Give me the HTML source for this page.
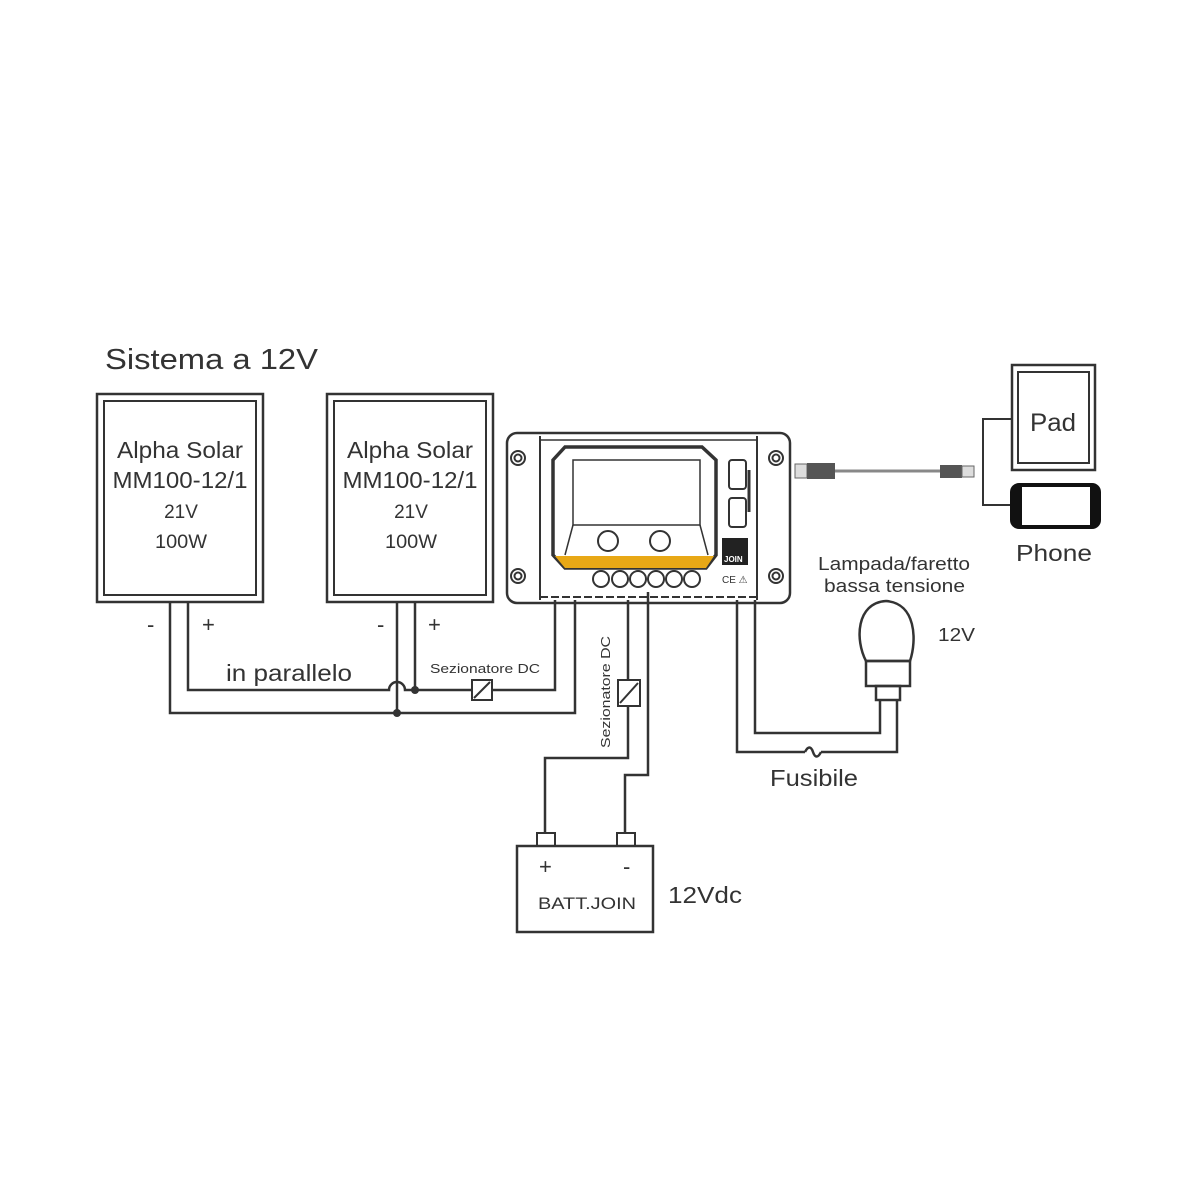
<!DOCTYPE html>
<html><head><meta charset="utf-8"><style>
html,body{margin:0;padding:0;background:#fff;}
svg{display:block;}
text{font-family:"Liberation Sans",sans-serif;fill:#333;}
</style></head><body>
<svg width="1200" height="1200" viewBox="0 0 1200 1200" xmlns="http://www.w3.org/2000/svg">
<rect width="1200" height="1200" fill="#fff"/>
<text x="105" y="369" font-size="29" textLength="213" lengthAdjust="spacingAndGlyphs">Sistema a 12V</text>

<g fill="none" stroke="#333" stroke-width="2.5">
<rect x="97" y="394" width="166" height="208"/>
<rect x="104" y="401" width="152" height="194" stroke-width="2"/>
<rect x="327" y="394" width="166" height="208"/>
<rect x="334" y="401" width="152" height="194" stroke-width="2"/>
<polyline points="170,602 170,713 575,713 575,600"/>
<path d="M188,602 V690 H389 A8,8 0 0 1 405,690 H472 M492,690 H555 V600"/>
<line x1="397" y1="602" x2="397" y2="713"/>
<line x1="415" y1="602" x2="415" y2="690"/>
<rect x="472" y="680" width="20" height="20" stroke-width="2"/>
<line x1="474" y1="698" x2="490" y2="682" stroke-width="2"/>
<polyline points="628,600 628,680"/>
<rect x="618" y="680" width="22" height="26" stroke-width="2"/>
<line x1="620" y1="703" x2="638" y2="683" stroke-width="2"/>
<polyline points="628,706 628,758 545,758 545,834"/>
<polyline points="648,592 648,775 625,775 625,834"/>
<rect x="537" y="833" width="18" height="13" stroke-width="2"/>
<rect x="617" y="833" width="18" height="13" stroke-width="2"/>
<rect x="517" y="846" width="136" height="86"/>
<polyline points="737,600 737,752 805,752"/>
<path d="M805,752 c3,-6 6,-6 8,0 s5,6 8,0" />
<polyline points="821,752 897,752 897,700"/>
<polyline points="755,600 755,733 880,733 880,700"/>
<path d="M866,661 C855,640 856,603 886,601 C916,603 917,640 910,661 Z"/>
<rect x="866" y="661" width="44" height="25"/>
<rect x="876" y="686" width="24" height="14"/>
<rect x="1012" y="365" width="83" height="105"/>
<rect x="1018" y="372" width="71" height="91" stroke-width="2"/>
<polyline points="1012,419 983,419 983,505 1012,505" stroke-width="2"/>
<rect x="507" y="433" width="283" height="170" rx="10"/>
<line x1="540" y1="436" x2="540" y2="600" stroke-width="2"/>
<line x1="757" y1="436" x2="757" y2="600" stroke-width="2"/>
<line x1="540" y1="440" x2="757" y2="440" stroke-width="1.5"/>
<line x1="540" y1="597" x2="757" y2="597" stroke-width="2" stroke-dasharray="8,3"/>
<path d="M565,447 H702 L716,460 V555 L706,568 H565 L553,555 V460 Z" stroke-width="3.5"/>
<path d="M573,460 H700 V525 H573 Z" stroke-width="1.5"/>
<line x1="573" y1="525" x2="565" y2="555" stroke-width="1.5"/>
<line x1="700" y1="525" x2="708" y2="555" stroke-width="1.5"/>
<circle cx="608" cy="541" r="10" stroke-width="2"/>
<circle cx="660" cy="541" r="10" stroke-width="2"/>
<g stroke-width="2">
<circle cx="601" cy="579" r="8"/><circle cx="620" cy="579" r="8"/><circle cx="638" cy="579" r="8"/>
<circle cx="656" cy="579" r="8"/><circle cx="674" cy="579" r="8"/><circle cx="692" cy="579" r="8"/>
<circle cx="518" cy="458" r="7"/><circle cx="518" cy="458" r="3.5"/>
<circle cx="518" cy="576" r="7"/><circle cx="518" cy="576" r="3.5"/>
<circle cx="776" cy="458" r="7"/><circle cx="776" cy="458" r="3.5"/>
<circle cx="776" cy="576" r="7"/><circle cx="776" cy="576" r="3.5"/>
<rect x="729" y="460" width="17" height="29" rx="3"/>
<rect x="729" y="498" width="17" height="29" rx="3"/>
</g>
<line x1="749" y1="470" x2="749" y2="512" stroke-width="3"/>
<line x1="835" y1="471" x2="940" y2="471" stroke="#888" stroke-width="3"/>
</g>
<path d="M555,556 H714 L706,568 H565 Z" fill="#e8a816"/>
<rect x="722" y="538" width="26" height="27" fill="#222"/>
<text x="724" y="562" font-size="8" font-weight="bold" style="fill:#fff">JOIN</text>
<text x="722" y="583" font-size="10">CE ⚠</text>
<circle cx="415" cy="690" r="4" fill="#333"/>
<circle cx="397" cy="713" r="4" fill="#333"/>
<rect x="795" y="464" width="12" height="14" fill="#ddd" stroke="#666"/>
<rect x="807" y="463" width="28" height="16" fill="#555"/>
<rect x="940" y="465" width="22" height="13" fill="#555"/>
<rect x="962" y="466" width="12" height="11" fill="#ddd" stroke="#666"/>
<rect x="1012" y="485" width="87" height="42" rx="7" fill="none" stroke="#111" stroke-width="4"/>
<rect x="1012" y="487" width="10" height="38" fill="#111"/>
<rect x="1090" y="487" width="9" height="38" fill="#111"/>

<g text-anchor="middle">
<text x="180" y="458" font-size="23" textLength="126" lengthAdjust="spacingAndGlyphs">Alpha Solar</text>
<text x="180" y="488" font-size="23" textLength="135" lengthAdjust="spacingAndGlyphs">MM100-12/1</text>
<text x="181" y="518" font-size="19">21V</text>
<text x="181" y="548" font-size="19" textLength="52" lengthAdjust="spacingAndGlyphs">100W</text>
<text x="410" y="458" font-size="23" textLength="126" lengthAdjust="spacingAndGlyphs">Alpha Solar</text>
<text x="410" y="488" font-size="23" textLength="135" lengthAdjust="spacingAndGlyphs">MM100-12/1</text>
<text x="411" y="518" font-size="19">21V</text>
<text x="411" y="548" font-size="19" textLength="52" lengthAdjust="spacingAndGlyphs">100W</text>
</g>
<text x="147" y="632" font-size="22">-</text>
<text x="202" y="632" font-size="22">+</text>
<text x="377" y="632" font-size="22">-</text>
<text x="428" y="632" font-size="22">+</text>
<text x="226" y="681" font-size="23" textLength="126" lengthAdjust="spacingAndGlyphs">in parallelo</text>
<text x="430" y="673" font-size="13" textLength="110" lengthAdjust="spacingAndGlyphs">Sezionatore DC</text>
<text transform="translate(610,748) rotate(-90)" font-size="13" textLength="112" lengthAdjust="spacingAndGlyphs">Sezionatore DC</text>
<text x="539" y="874" font-size="22">+</text>
<text x="623" y="874" font-size="22">-</text>
<text x="538" y="909" font-size="17" textLength="98" lengthAdjust="spacingAndGlyphs">BATT.JOIN</text>
<text x="668" y="903" font-size="23" textLength="74" lengthAdjust="spacingAndGlyphs">12Vdc</text>
<text x="770" y="786" font-size="23" textLength="88" lengthAdjust="spacingAndGlyphs">Fusibile</text>
<text x="818" y="570" font-size="18" textLength="152" lengthAdjust="spacingAndGlyphs">Lampada/faretto</text>
<text x="824" y="592" font-size="18" textLength="141" lengthAdjust="spacingAndGlyphs">bassa tensione</text>
<text x="938" y="641" font-size="18" textLength="37" lengthAdjust="spacingAndGlyphs">12V</text>
<text x="1030" y="431" font-size="25" textLength="46" lengthAdjust="spacingAndGlyphs">Pad</text>
<text x="1016" y="561" font-size="23" textLength="76" lengthAdjust="spacingAndGlyphs">Phone</text>
</svg>
</body></html>
